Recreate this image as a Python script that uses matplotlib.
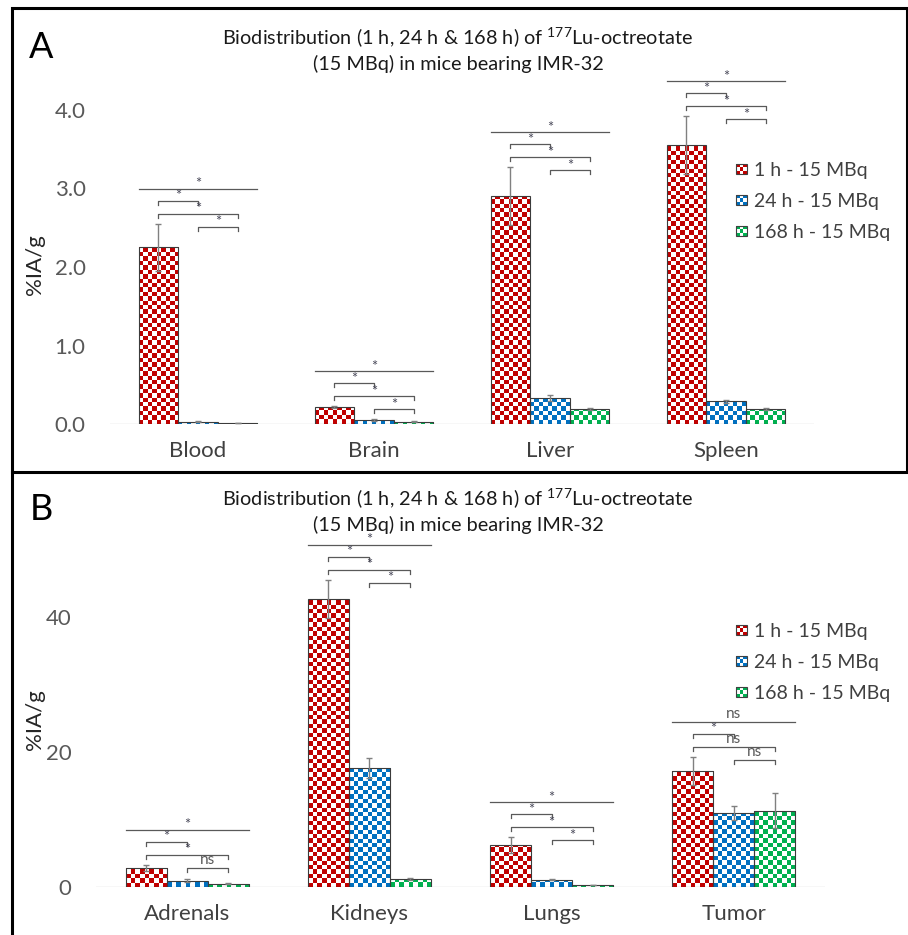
import numpy as np
import matplotlib
matplotlib.use('Agg')
import matplotlib.pyplot as plt
from matplotlib.patches import Rectangle, Patch
from matplotlib.legend_handler import HandlerBase

plt.rcParams['font.family'] = ['Lato', 'DejaVu Sans']
plt.rcParams['mathtext.fontset'] = 'custom'
plt.rcParams['mathtext.rm'] = 'Lato'
plt.rcParams['mathtext.it'] = 'Lato:italic'

series = ['1 h - 15 MBq', '24 h - 15 MBq', '168 h - 15 MBq']
colors = ['#C00000', '#0070C0', '#00B050']

# panel A
organs_a = ['Blood', 'Brain', 'Liver', 'Spleen']
mean_a_1h = [2.25, 0.217, 2.90, 3.55]
mean_a_24h = [0.03, 0.05, 0.33, 0.29]
mean_a_168h = [0.01, 0.03, 0.19, 0.19]
err_a_1h = [0.30, 0.01, 0.37, 0.37]
err_a_24h = [0.005, 0.01, 0.04, 0.02]
err_a_168h = [0.003, 0.005, 0.01, 0.01]
# overall, 1h vs 24h, 1h vs 168h, 24h vs 168h
sig_a = [['*', '*', '*', '*'], ['*', '*', '*', '*'],
         ['*', '*', '*', '*'], ['*', '*', '*', '*']]

# panel B
organs_b = ['Adrenals', 'Kidneys', 'Lungs', 'Tumor']
mean_b_1h = [2.8, 42.7, 6.2, 17.2]
mean_b_24h = [0.95, 17.6, 1.1, 11.0]
mean_b_168h = [0.5, 1.2, 0.3, 11.3]
err_b_1h = [0.5, 2.8, 1.2, 2.1]
err_b_24h = [0.2, 1.5, 0.1, 1.0]
err_b_168h = [0.1, 0.1, 0.05, 2.6]
sig_b = [['*', '*', '*', 'ns'], ['*', '*', '*', '*'],
         ['*', '*', '*', '*'], ['ns', '*', 'ns', 'ns']]

title = 'Biodistribution (1 h, 24 h & 168 h) of $^{177}$Lu-octreotate\n(15 MBq) in mice bearing IMR-32'

W, H = 908, 935
CELL = 4.4  # checker square, px


class CheckerHandler(HandlerBase):
    def create_artists(self, legend, orig_handle, xdescent, ydescent,
                       width, height, fontsize, trans):
        c = orig_handle.get_facecolor()
        s = min(width, height)
        x0 = -xdescent
        y0 = -ydescent + (height - s) / 2
        n = 3
        d = s / n
        arts = []
        for i in range(n):
            for j in range(n):
                fc = c if (i + j) % 2 == 0 else 'white'
                arts.append(Rectangle((x0 + j*d, y0 + i*d), d, d, facecolor=fc,
                                      edgecolor='none', transform=trans))
        arts.append(Rectangle((x0, y0), s, s, facecolor='none', edgecolor='#404040',
                              lw=0.8, transform=trans))
        return arts


def checker(color, ny, nx):
    c = np.array(matplotlib.colors.to_rgb(color))
    img = np.ones((ny, nx, 3))
    ii, jj = np.indices((ny, nx))
    img[(ii + jj) % 2 == 0] = c
    return img


def draw_panel(fig, rect, organs, means, errs, sigs, ylim, yticks, yfmt, leg_xy):
    ax = fig.add_axes(rect)
    n = len(organs)
    xlim = (-0.5, n - 0.5)
    ax.set_xlim(*xlim)
    ax.set_ylim(*ylim)
    ppx = ax.bbox.width / (xlim[1] - xlim[0])
    ppy = ax.bbox.height / (ylim[1] - ylim[0])
    w = 0.225
    x = np.arange(n)

    for k in range(3):
        xs = x + (k - 1) * w
        bars = ax.bar(xs, means[k], width=w, facecolor='none', edgecolor='#3b3b3b',
                      lw=0.8, zorder=3)
        for b in bars:
            bx, bh = b.get_x(), b.get_height()
            nx = max(1, int(round(w * ppx / CELL)))
            ny = max(1, int(np.ceil(bh * ppy / CELL)))
            im = ax.imshow(checker(colors[k], ny, nx), origin='lower',
                           extent=(bx, bx + w, 0, ny * CELL / ppy),
                           interpolation='nearest', aspect='auto', zorder=2)
            im.set_clip_path(b)
        ax.errorbar(xs, means[k], yerr=errs[k], fmt='none', ecolor='#808080',
                    elinewidth=1, capsize=2.5, capthick=1, zorder=4)

    # significance brackets
    tk = 4 / ppy
    for g in range(n):
        top = max(means[k][g] + errs[k][g] for k in range(3))
        xr, xb, xg = x[g] - w, x[g], x[g] + w
        y3 = top - 3 / ppy
        y2 = y3 + 13 / ppy
        y1 = y2 + 13 / ppy
        y0 = y1 + 12 / ppy
        ax.plot([xr - w/2, xg + w/2], [y0, y0], color='#595959', lw=0.9, clip_on=False)
        for (yy, xa, xz) in [(y1, xr, xb), (y2, xr, xg), (y3, xb, xg)]:
            ax.plot([xa, xa, xz, xz], [yy - tk, yy, yy, yy - tk], color='#595959',
                    lw=0.9, clip_on=False)
        for s, yy, xa, xz in zip(sigs[g], [y0, y1, y2, y3],
                                 [xr - w/2, xr, xr, xb], [xg + w/2, xb, xg, xg]):
            if s == 'ns':
                ax.text((xa + xz) / 2, yy + 0.5 / ppy, s, ha='center', va='bottom',
                        fontsize=11, color='#595959')
            else:
                ax.text((xa + xz) / 2, yy - 2.5 / ppy, s, ha='center', va='bottom',
                        fontsize=10.5, color='#4a4a5a')

    ax.axhline(0, color='#d9d9d9', lw=1, zorder=1)
    for sp in ax.spines.values():
        sp.set_visible(False)
    ax.set_yticks(yticks, [yfmt.format(t) for t in yticks])
    ax.set_xticks(x, organs)
    ax.tick_params(axis='y', length=0, pad=17.5, labelsize=16, labelcolor='#595959')
    ax.tick_params(axis='x', length=0, pad=12.5, labelsize=16, labelcolor='#404040')

    ax.legend([Patch(facecolor=c) for c in colors], series,
              handler_map={Patch: CheckerHandler()}, loc='upper left',
              bbox_to_anchor=(leg_xy[0] / W, 1 - leg_xy[1] / H),
              bbox_transform=fig.transFigure, frameon=False, fontsize=14,
              handlelength=0.55, handleheight=0.55, handletextpad=0.35,
              labelspacing=0.72, borderpad=0, borderaxespad=0, labelcolor='#404040')
    return ax


fig = plt.figure(figsize=(W / 100, H / 100), dpi=100)

ax_a = draw_panel(fig, [110 / W, (H - 424) / H, 704 / W, 4.5 * 78.5 / H],
                  organs_a, [mean_a_1h, mean_a_24h, mean_a_168h],
                  [err_a_1h, err_a_24h, err_a_168h], sig_a,
                  (0, 4.5), [0, 1, 2, 3, 4], '{:.1f}', (736, 162))
ax_b = draw_panel(fig, [96 / W, (H - 887) / H, 729 / W, 52 * 6.75 / H],
                  organs_b, [mean_b_1h, mean_b_24h, mean_b_168h],
                  [err_b_1h, err_b_24h, err_b_168h], sig_b,
                  (0, 52), [0, 20, 40], '{:d}', (736, 623))

# titles, labels, panel letters
for ty, ly, yl, letter in [(49, 47, 265, 'A'), (510, 510, 720, 'B')]:
    fig.text(458 / W, 1 - ty / H, title, ha='center', va='center', fontsize=14.3,
             color='#1a1a1a', linespacing=1.35)
    fig.text(41 / W, 1 - ly / H, letter, ha='center', va='center', fontsize=26)
    fig.text(35 / W, 1 - yl / H, '%IA/g', ha='center', va='center', rotation=90,
             fontsize=16, color='#262626')

# panel frames
fig.add_artist(Rectangle((12 / W, 1 - 472 / H), (907 - 12) / W, (472 - 8) / H,
                         transform=fig.transFigure, fill=False, lw=2.2, ec='black'))
fig.add_artist(plt.Line2D([12 / W, 12 / W], [1 - 472 / H, 0], transform=fig.transFigure,
                          color='black', lw=2.2))

fig.savefig('out.png', dpi=100)
